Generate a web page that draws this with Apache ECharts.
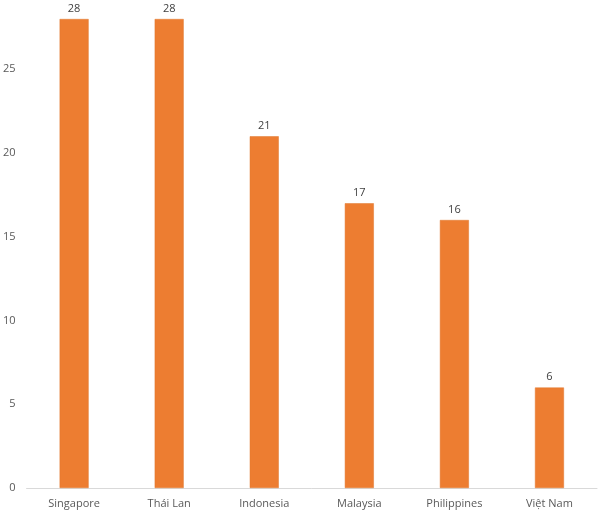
<!DOCTYPE html>
<html>
<head>
<meta charset="utf-8">
<script src="https://cdn.jsdelivr.net/npm/echarts@6/dist/echarts.min.js"></script>
<style>html,body{margin:0;padding:0;background:#fff;}#c{width:600px;height:513px;}</style>
</head>
<body>
<div id="c"></div>
<script>
const categories = ['Singapore', 'Thái Lan', 'Indonesia', 'Malaysia', 'Philippines', 'Việt Nam'];
const values = [28, 28, 21, 17, 16, 6];
const yTicks = [0, 5, 10, 15, 20, 25];

const chart = echarts.init(document.getElementById('c'));
chart.setOption({
  animation: false,
  grid: { left: 26, right: 3, top: 19, bottom: 25, containLabel: false },
  xAxis: {
    type: 'category',
    data: categories,
    axisLine: { lineStyle: { color: '#d9d9d9', width: 1 } },
    axisTick: { show: false },
    axisLabel: { color: '#595959', fontSize: 11, fontFamily: 'Open Sans', margin: 10 }
  },
  yAxis: {
    type: 'value',
    min: 0,
    max: 28,
    interval: 5,
    splitLine: { show: false },
    axisLine: { show: false },
    axisTick: { show: false },
    axisLabel: {
      color: '#595959', fontSize: 11, fontFamily: 'Open Sans', margin: 11,
      showMaxLabel: false,
      formatter: v => yTicks.indexOf(v) >= 0 ? String(v) : ''
    }
  },
  series: [{
    type: 'bar',
    data: values,
    barWidth: 29,
    itemStyle: { color: '#ED7D31', borderColor: '#E0782E', borderWidth: 0.5 },
    label: { show: true, position: 'top', distance: 5, color: '#404040', fontSize: 11, fontFamily: 'Open Sans' }
  }]
});
</script>
</body>
</html>
